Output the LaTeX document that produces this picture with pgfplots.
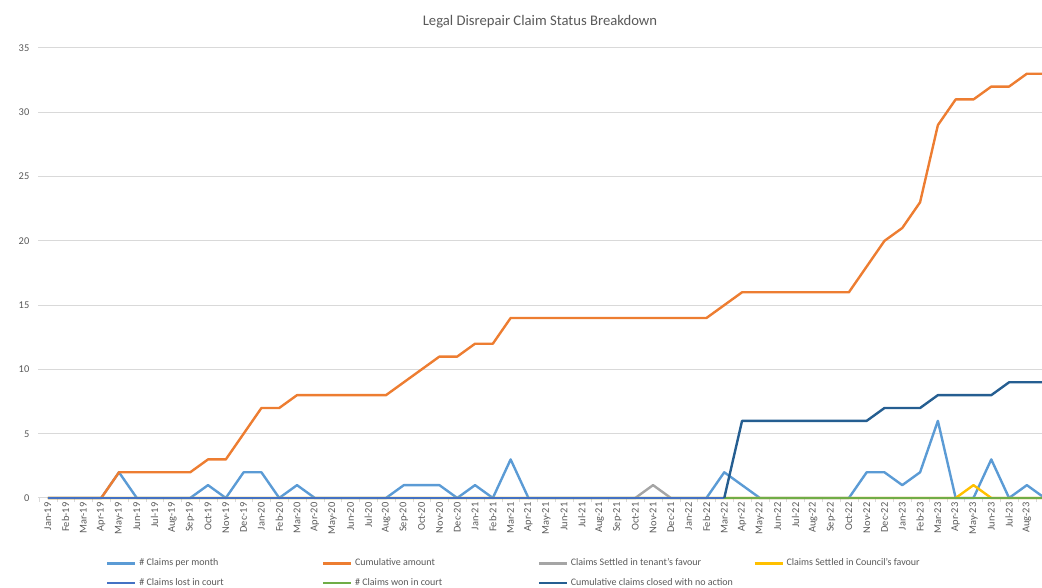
\documentclass[border=0pt]{standalone}
\usepackage{fontspec}
\setmainfont{Carlito}
\usepackage{pgfplots}
\pgfplotsset{compat=1.18}
\usepackage{pgfplotstable}

\definecolor{perm}{HTML}{5B9BD5}
\definecolor{cum}{HTML}{ED7D31}
\definecolor{tenant}{HTML}{A5A5A5}
\definecolor{council}{HTML}{FFC000}
\definecolor{lost}{HTML}{4472C4}
\definecolor{won}{HTML}{70AD47}
\definecolor{closed}{HTML}{255E91}
\definecolor{gridc}{HTML}{D9D9D9}
\definecolor{txt}{HTML}{595959}

% month index, then one column per series
\pgfplotstableread{
x  perm cum tenant council lost won closed
0  0  0  0 0 0 nan nan
1  0  0  0 0 0 nan nan
2  0  0  0 0 0 nan nan
3  0  0  0 0 0 nan nan
4  2  2  0 0 0 nan nan
5  0  2  0 0 0 nan nan
6  0  2  0 0 0 nan nan
7  0  2  0 0 0 nan nan
8  0  2  0 0 0 nan nan
9  1  3  0 0 0 nan nan
10 0  3  0 0 0 nan nan
11 2  5  0 0 0 nan nan
12 2  7  0 0 0 nan nan
13 0  7  0 0 0 nan nan
14 1  8  0 0 0 nan nan
15 0  8  0 0 0 nan nan
16 0  8  0 0 0 nan nan
17 0  8  0 0 0 nan nan
18 0  8  0 0 0 nan nan
19 0  8  0 0 0 nan nan
20 1  9  0 0 0 nan nan
21 1  10 0 0 0 nan nan
22 1  11 0 0 0 nan nan
23 0  11 0 0 0 nan nan
24 1  12 0 0 0 nan nan
25 0  12 0 0 0 nan nan
26 3  14 0 0 0 nan nan
27 0  14 0 0 0 nan nan
28 0  14 0 0 0 nan nan
29 0  14 0 0 0 nan nan
30 0  14 0 0 0 nan nan
31 0  14 0 0 0 nan nan
32 0  14 0 0 0 nan nan
33 0  14 0 0 0 nan nan
34 0  14 1 0 0 nan nan
35 0  14 0 0 0 nan nan
36 0  14 0 0 0 nan nan
37 0  14 0 0 0 nan nan
38 2  15 0 0 0 0 0
39 1  16 0 0 0 0 6
40 0  16 0 0 0 0 6
41 0  16 0 0 0 0 6
42 0  16 0 0 0 0 6
43 0  16 0 0 0 0 6
44 0  16 0 0 0 0 6
45 0  16 0 0 0 0 6
46 2  18 0 0 0 0 6
47 2  20 0 0 0 0 7
48 1  21 0 0 0 0 7
49 2  23 0 0 0 0 7
50 6  29 0 0 0 0 8
51 0  31 0 0 0 0 8
52 0  31 0 1 0 0 8
53 3  32 0 0 0 0 8
54 0  32 0 0 0 0 9
55 1  33 0 0 0 0 9
56 0  33 0 0 0 0 9
}\claims

\begin{document}
\begin{tikzpicture}
\useasboundingbox (-28.5pt,-67.5pt) rectangle (753pt,373.5pt);
\begin{axis}[
    scale only axis,
    width=753pt, height=337.5pt,
    xmin=-0.55, xmax=55.85,
    ymin=0, ymax=35,
    clip=false,
    ytick={0,5,...,35},
    xtick={0,...,56},
    xticklabels={Jan-19,Feb-19,Mar-19,Apr-19,May-19,Jun-19,Jul-19,Aug-19,Sep-19,Oct-19,Nov-19,Dec-19,
        Jan-20,Feb-20,Mar-20,Apr-20,May-20,Jun-20,Jul-20,Aug-20,Sep-20,Oct-20,Nov-20,Dec-20,
        Jan-21,Feb-21,Mar-21,Apr-21,May-21,Jun-21,Jul-21,Aug-21,Sep-21,Oct-21,Nov-21,Dec-21,
        Jan-22,Feb-22,Mar-22,Apr-22,May-22,Jun-22,Jul-22,Aug-22,Sep-22,Oct-22,Nov-22,Dec-22,
        Jan-23,Feb-23,Mar-23,Apr-23,May-23,Jun-23,Jul-23,Aug-23,Sep-23},
    minor xtick={-0.5,0.5,...,56.5},
    major tick length=0pt,
    minor tick length=3pt,
    tick align=outside,
    xtick pos=bottom, ytick pos=left,
    minor tick style={gridc},
    axis line style={draw=none},
    ymajorgrids,
    grid style={gridc, line width=0.75pt},
    tick label style={font=\fontsize{7.8}{9}\selectfont, text=txt},
    /pgf/number format/assume math mode=true,
    x tick label style={rotate=90, anchor=east},
    y tick label style={xshift=-3pt},
    title={Legal Disrepair Claim Status Breakdown},
    title style={at={(axis description cs:0.5,1.04)}, anchor=center,
        font=\fontsize{11}{13}\selectfont, text=txt},
    unbounded coords=jump,
    every axis plot/.append style={line width=1.8pt, line join=round},
    legend columns=4,
    legend cell align=left,
    legend image code/.code={\draw[#1] (0pt,0pt) -- (21pt,0pt);},
    legend style={at={(axis description cs:0,0)}, anchor=north west,
        xshift=48pt, yshift=-41.5pt, draw=none, fill=none,
        font=\fontsize{7.5}{9}\selectfont, text=txt, row sep=4pt},
]
\addplot[perm] table[x=x, y=perm] {\claims};
\addlegendentry{\makebox[135pt][l]{\# Claims per month}}
\addplot[cum] table[x=x, y=cum] {\claims};
\addlegendentry{\makebox[135pt][l]{Cumulative amount}}
\addplot[tenant] table[x=x, y=tenant] {\claims};
\addlegendentry{\makebox[135pt][l]{Claims Settled in tenant's favour}}
\addplot[council] table[x=x, y=council] {\claims};
\addlegendentry{\makebox[135pt][l]{Claims Settled in Council's favour}}
\addplot[lost] table[x=x, y=lost] {\claims};
\addlegendentry{\makebox[135pt][l]{\# Claims lost in court}}
\addplot[won] table[x=x, y=won] {\claims};
\addlegendentry{\makebox[135pt][l]{\# Claims won in court}}
\addplot[closed] table[x=x, y=closed] {\claims};
\addlegendentry{\makebox[135pt][l]{Cumulative claims closed with no action}}
\end{axis}
\end{tikzpicture}
\end{document}
